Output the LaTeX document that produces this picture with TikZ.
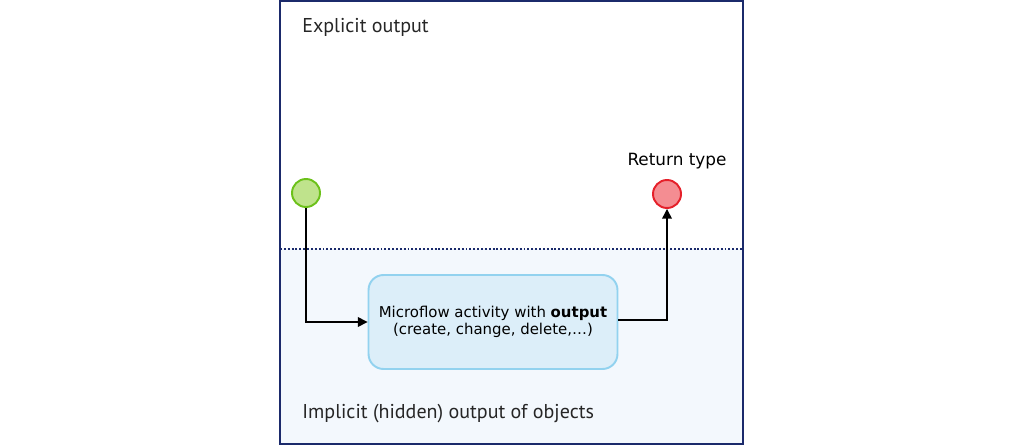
\documentclass[tikz,border=0pt]{standalone}
\usepackage{fontspec}
\setmainfont{DejaVu Sans}
\newfontfamily\regionfont{PT Sans}
\usetikzlibrary{positioning}
\usetikzlibrary{arrows.meta}
\definecolor{framenavy}{HTML}{1B2A6B}
\definecolor{lowerfill}{HTML}{F3F8FD}
\definecolor{actfill}{HTML}{DCEEF9}
\definecolor{actdraw}{HTML}{92D2EF}
\definecolor{startfill}{HTML}{BFE38C}
\definecolor{startdraw}{HTML}{6CC11A}
\definecolor{retfill}{HTML}{F48D92}
\definecolor{retdraw}{HTML}{E5202A}
\tikzset{
  event/.style={circle, line width=1.1pt, minimum size=0.56cm, inner sep=0pt},
  activity/.style={draw=actdraw, fill=actfill, line width=1.1pt, rounded corners=0.3cm,
    minimum width=4.98cm, minimum height=1.88cm, align=center, font=\fontsize{8.5}{10}\selectfont},
  flow/.style={line width=0.8pt, -{Triangle[length=5.5pt,width=5.5pt]}},
  region/.style={anchor=base west, inner sep=0pt, font=\regionfont\fontsize{11.4}{13}\selectfont, text=black!85}
}

\begin{document}
\begin{tikzpicture}[x=0.02cm,y=-0.02cm]
\useasboundingbox (0,0) rectangle (1024,446);

% regions
\fill[lowerfill] (280,249) rectangle (743,444);
\draw[framenavy, line width=1.1pt] (280,1) rectangle (743,444);
\draw[framenavy, line width=1.1pt, dash pattern=on 1.1pt off 1.1pt] (280,249) -- (743,249);

\node[region] (explicit) at (302,33) {Explicit output};
\node[region] (implicit) at (302,418) {Implicit (hidden) output of objects};

% nodes
\node[event, draw=startdraw, fill=startfill] (start) at (306,193) {};
\node[event, draw=retdraw, fill=retfill] (ret) at (667,194) {};
\node[font=\fontsize{9.6}{11}\selectfont, anchor=base] (rettype) at (677,165) {Return type};

\node[activity] (act) at (493,322) {Microflow activity with \textbf{output}\\(create, change, delete,\dots)};

% connectors
\draw[flow] (start) |- (act);
\draw[flow] (act.east |- 0,320) -| (ret);

\end{tikzpicture}
\end{document}
